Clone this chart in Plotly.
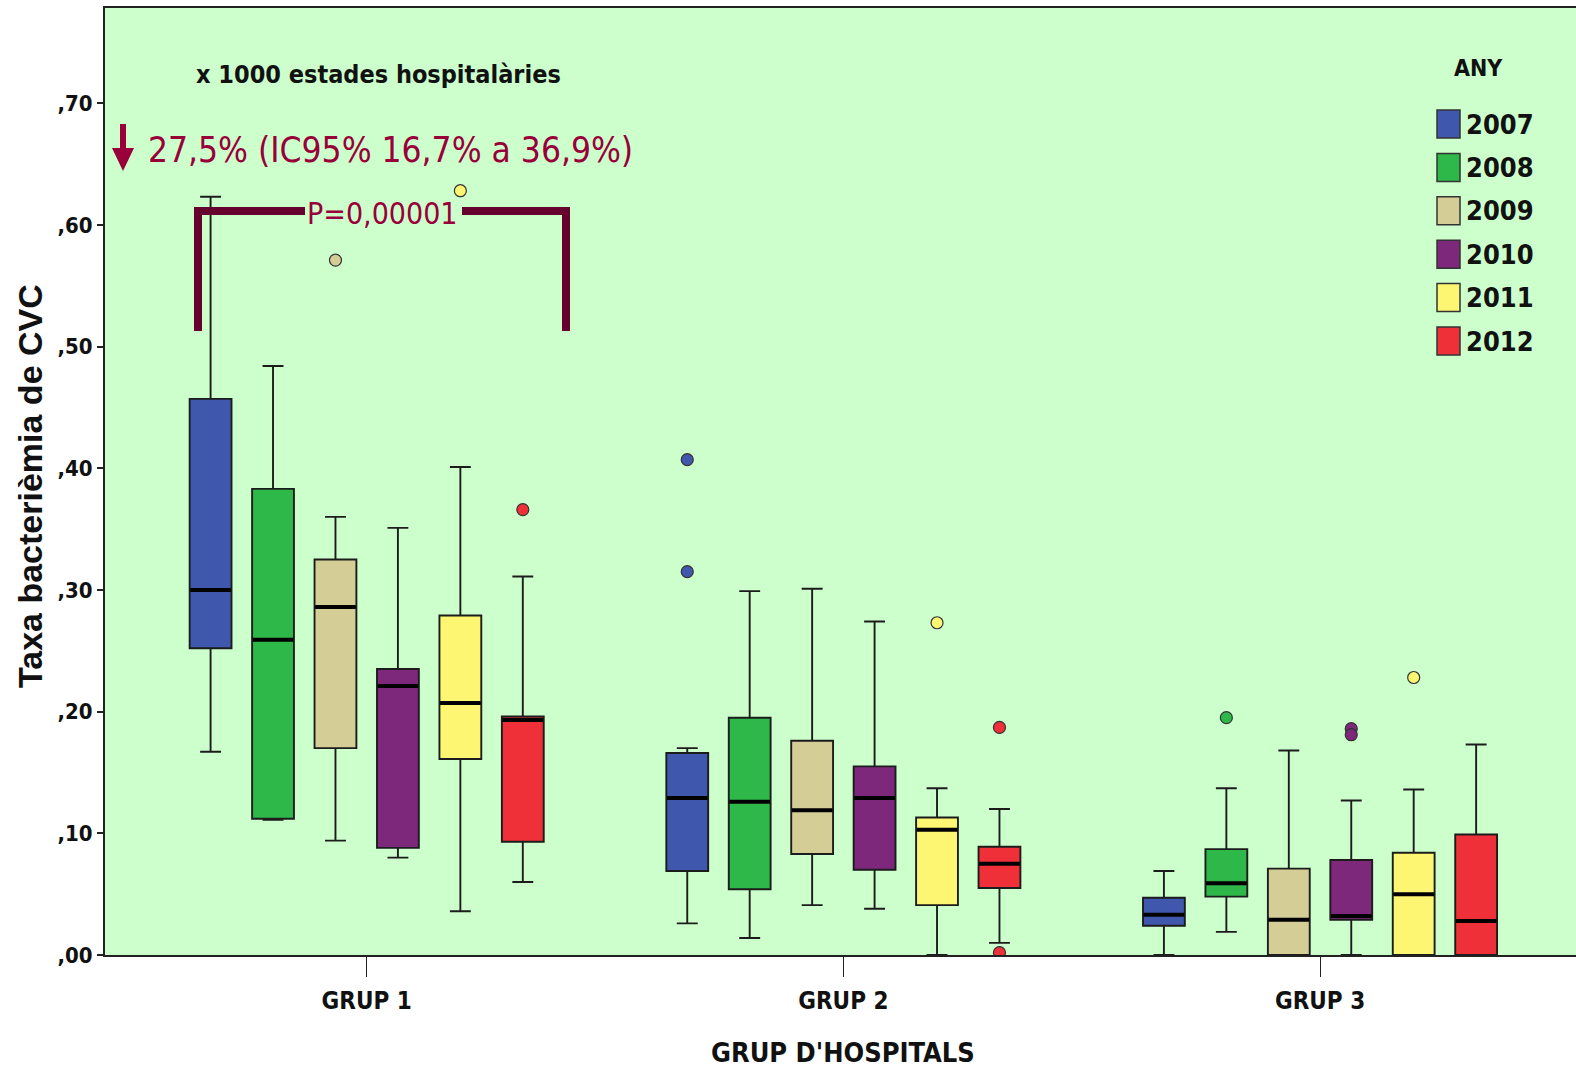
import plotly.graph_objects as go

# ---- data -------------------------------------------------------------
groups = ["GRUP 1", "GRUP 2", "GRUP 3"]
years = ["2007", "2008", "2009", "2010", "2011", "2012"]

# one row per year, one value per hospital group
lower_fence = [
    [0.167, 0.026, 0.000],
    [0.111, 0.014, 0.019],
    [0.094, 0.041, 0.000],
    [0.080, 0.038, 0.000],
    [0.036, 0.000, 0.000],
    [0.060, 0.010, 0.000],
]
q1 = [
    [0.252, 0.069, 0.024],
    [0.112, 0.054, 0.048],
    [0.170, 0.083, 0.000],
    [0.088, 0.070, 0.029],
    [0.161, 0.041, 0.000],
    [0.093, 0.055, 0.000],
]
median = [
    [0.300, 0.129, 0.033],
    [0.259, 0.126, 0.059],
    [0.286, 0.119, 0.029],
    [0.221, 0.129, 0.032],
    [0.207, 0.103, 0.050],
    [0.193, 0.075, 0.028],
]
q3 = [
    [0.457, 0.166, 0.047],
    [0.383, 0.195, 0.087],
    [0.325, 0.176, 0.071],
    [0.235, 0.155, 0.078],
    [0.279, 0.113, 0.084],
    [0.196, 0.089, 0.099],
]
upper_fence = [
    [0.623, 0.170, 0.069],
    [0.484, 0.299, 0.137],
    [0.360, 0.301, 0.168],
    [0.351, 0.274, 0.127],
    [0.401, 0.137, 0.136],
    [0.311, 0.120, 0.173],
]
outlier_groups = [
    ["GRUP 2", "GRUP 2"],
    ["GRUP 3"],
    ["GRUP 1"],
    ["GRUP 3", "GRUP 3"],
    ["GRUP 1", "GRUP 2", "GRUP 3"],
    ["GRUP 1", "GRUP 2", "GRUP 2"],
]
outlier_values = [
    [0.407, 0.315],
    [0.195],
    [0.571],
    [0.186, 0.181],
    [0.628, 0.273, 0.228],
    [0.366, 0.187, 0.002],
]

y_tick_values = [0.0, 0.1, 0.2, 0.3, 0.4, 0.5, 0.6, 0.7]
y_tick_labels = [",00", ",10", ",20", ",30", ",40", ",50", ",60", ",70"]

# ---- styling ----------------------------------------------------------
colors = ["#3F57AC", "#2EB84A", "#D5CD96", "#7D287B", "#FCF672", "#EF3038"]
OUTLINE = "#1c1c1c"
CRIMSON = "#99003A"
BRACKET = "#66002E"
NARROW = "Noto Sans Condensed, DejaVu Sans Condensed, Liberation Sans Narrow, sans-serif"
WIDE = "Liberation Sans, Arial, sans-serif"

W, H = 1576, 1074
ML, MR, MT, MB = 105, 0, 8, 119
PW, PH = W - ML - MR, H - MT - MB


def px(x):
    return (x - ML) / PW


def py(y):
    return (H - MB - y) / PH


def label(x, y, text, font, xanchor="center", **kw):
    return dict(x=px(x), y=py(y), xref="paper", yref="paper", text=text,
                xanchor=xanchor, yanchor="middle", showarrow=False,
                font=font, **kw)


fig = go.Figure()

for i, year in enumerate(years):
    fig.add_trace(go.Box(
        name=year,
        x=groups,
        q1=q1[i], median=median[i], q3=q3[i],
        lowerfence=lower_fence[i], upperfence=upper_fence[i],
        offsetgroup=year,
        fillcolor=colors[i],
        line=dict(color=OUTLINE, width=1.9),
        whiskerwidth=0.5,
        boxpoints=False,
        showlegend=False,
        hoverinfo="skip",
    ))

# thick median bars
for i, year in enumerate(years):
    fig.add_trace(go.Scatter(
        x=groups, y=median[i], mode="markers",
        offsetgroup=year,
        marker=dict(symbol="line-ew", size=29,
                    line=dict(color="#000000", width=4)),
        showlegend=False, hoverinfo="skip",
    ))

# outliers
for i, year in enumerate(years):
    fig.add_trace(go.Scatter(
        x=outlier_groups[i], y=outlier_values[i], mode="markers",
        offsetgroup=year,
        marker=dict(symbol="circle", size=12, color=colors[i],
                    line=dict(color="#333333", width=1.2)),
        showlegend=False, hoverinfo="skip",
    ))

shapes = []
annotations = []
dark = "#111111"

# legend
annotations.append(label(1478, 68, "<b>ANY</b>",
                         dict(family=NARROW, size=23, color=dark)))
for i, year in enumerate(years):
    cy = 124 + i * 43.4
    shapes.append(dict(type="rect", xref="paper", yref="paper",
                       x0=px(1437), x1=px(1460), y0=py(cy + 14), y1=py(cy - 14),
                       fillcolor=colors[i], line=dict(color="#333333", width=1.5)))
    annotations.append(label(1464, cy, f"<b>{year}</b>",
                             dict(family=NARROW, size=27, color=dark),
                             xanchor="left"))

# subtitle
annotations.append(label(378, 75, "<b>x 1000 estades hospitalàries</b>",
                         dict(family=NARROW, size=25, color=dark)))

# reduction text with down arrow
annotations.append(label(146, 150, "27,5% (IC95% 16,7% a 36,9%)",
                         dict(family=NARROW, size=35, color=CRIMSON),
                         xanchor="left"))
ax = 123
arrow_path = (
    f"M {px(ax - 3)} {py(124)} L {px(ax + 3)} {py(124)} L {px(ax + 3)} {py(148)} "
    f"L {px(ax + 11)} {py(148)} L {px(ax)} {py(171)} L {px(ax - 11)} {py(148)} "
    f"L {px(ax - 3)} {py(148)} Z"
)
shapes.append(dict(type="path", xref="paper", yref="paper", path=arrow_path,
                   fillcolor=CRIMSON, line=dict(color=CRIMSON, width=0)))

# significance bracket
shapes.append(dict(type="path", xref="paper", yref="paper",
                   path=f"M {px(198)} {py(331)} L {px(198)} {py(211)} L {px(305)} {py(211)}",
                   line=dict(color=BRACKET, width=8)))
shapes.append(dict(type="path", xref="paper", yref="paper",
                   path=f"M {px(462)} {py(211)} L {px(566)} {py(211)} L {px(566)} {py(331)}",
                   line=dict(color=BRACKET, width=8)))
annotations.append(label(382, 214, "P=0,00001",
                         dict(family=NARROW, size=30, color=CRIMSON)))

# axis titles
annotations.append(label(30, 486, "<b>Taxa bacterièmia de CVC</b>",
                         dict(family=WIDE, size=34, color=dark), textangle=-90))
annotations.append(label(843, 1052, "<b>GRUP D'HOSPITALS</b>",
                         dict(family=NARROW, size=27, color=dark)))

fig.update_layout(
    width=W, height=H,
    margin=dict(l=ML, r=MR, t=MT, b=MB, autoexpand=False),
    paper_bgcolor="white",
    plot_bgcolor="#CCFFCC",
    boxmode="group", boxgap=0.214, boxgroupgap=0.33,
    scattermode="group", scattergap=0.214,
    showlegend=False,
    shapes=shapes,
    annotations=annotations,
    xaxis=dict(
        type="category", range=[-0.549, 2.537],
        showgrid=False, zeroline=False,
        showline=True, linecolor="#222222", linewidth=2, mirror=True,
        ticks="outside", ticklen=20, tickcolor="#222222", tickwidth=1.2,
        ticklabelstandoff=3,
        tickfont=dict(family=NARROW, size=24, color=dark),
        tickprefix="<b>", ticksuffix="</b>",
    ),
    yaxis=dict(
        range=[0, (H - MB - MT) / 1217.0],
        tickvals=y_tick_values, ticktext=[f"<b>{t}</b>" for t in y_tick_labels],
        showgrid=False, zeroline=False,
        showline=True, linecolor="#222222", linewidth=2,
        ticks="outside", ticklen=6, tickcolor="#222222", tickwidth=1.5,
        tickfont=dict(family=NARROW, size=22, color=dark),
    ),
)

fig.write_html("out.html")
